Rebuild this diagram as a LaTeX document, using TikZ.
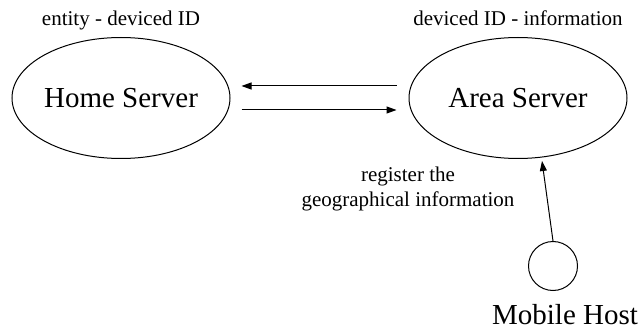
\documentclass[tikz,border=0pt]{standalone}
\usepackage{fontspec}
\setmainfont{Liberation Serif}
\usetikzlibrary{shapes.geometric,arrows.meta}
\begin{document}
\begin{tikzpicture}[x=1pt,y=-1pt,
  line width=1pt,
  server/.style={draw,ellipse,minimum width=218pt,minimum height=121pt,inner sep=0pt,font=\fontsize{29}{33}\selectfont},
  host/.style={draw,circle,minimum size=49pt,inner sep=0pt},
  small/.style={font=\fontsize{21}{25}\selectfont,inner sep=0pt,align=center},
  big/.style={font=\fontsize{29}{33}\selectfont,inner sep=0pt},
  arr/.style={-{Triangle[length=10pt,width=7pt]}}]
\useasboundingbox (0,0) rectangle (642,331);
\node[server] (home) at (121,98) {Home Server};
\node[server] (area) at (518,98) {Area Server};
\node[host] (mh) at (553,266) {};
\node[small,anchor=base] (lh) at (121,26) {entity - deviced ID};
\node[small,anchor=base] (la) at (518,26) {deviced ID - information};
\node[big,anchor=base] (lm) at (565,324) {Mobile Host};
\node[small,anchor=base] (lr) at (408,207) {register the\\geographical information};
\coordinate (tip) at ([shift={(24pt,-2pt)}]area.south);
\draw[arr] ([shift={(-12pt,12pt)}]area.west) -- ([shift={(11pt,12pt)}]home.east);
\draw[arr] ([shift={(11pt,-12pt)}]home.east) -- ([shift={(-12pt,-12pt)}]area.west);
\draw[arr] (mh.north) -- (tip);
\end{tikzpicture}
\end{document}
